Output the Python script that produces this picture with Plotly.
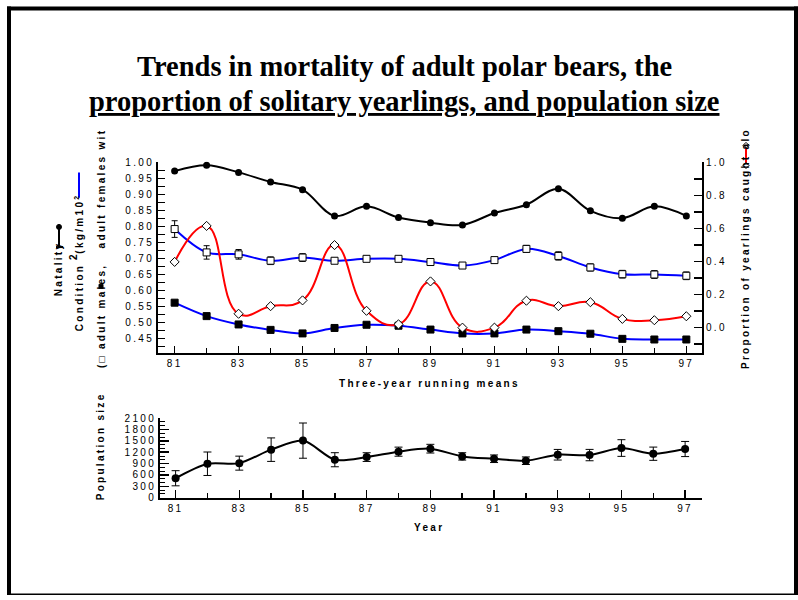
import plotly.graph_objects as go

# ---------------- data ----------------
years = [81, 82, 83, 84, 85, 86, 87, 88, 89, 90, 91, 92, 93, 94, 95, 96, 97]
natality = [0.973, 0.991, 0.969, 0.939, 0.915, 0.833, 0.863, 0.828, 0.812,
            0.805, 0.842, 0.868, 0.918, 0.849, 0.826, 0.863, 0.833]
males_cond = [0.792, 0.719, 0.713, 0.693, 0.703, 0.693, 0.699, 0.699, 0.689,
              0.678, 0.695, 0.730, 0.708, 0.672, 0.651, 0.650, 0.646]
males_err = [0.026, 0.021, 0.015, 0.012, 0.012, 0.008, 0.008, 0.007, 0.007,
             0.007, 0.008, 0.011, 0.013, 0.011, 0.012, 0.012, 0.012]
females_cond = [0.562, 0.520, 0.494, 0.477, 0.466, 0.483, 0.493, 0.490, 0.478,
                0.466, 0.466, 0.478, 0.473, 0.465, 0.449, 0.447, 0.447]
females_err = [0.007, 0.005, 0.005, 0.005, 0.005, 0.004, 0.004, 0.004, 0.004,
               0.004, 0.004, 0.004, 0.004, 0.004, 0.004, 0.004, 0.004]
solitary = [0.398, 0.616, 0.084, 0.130, 0.165, 0.500, 0.102, 0.020, 0.280,
            0.000, 0.000, 0.163, 0.130, 0.154, 0.053, 0.045, 0.069]
pop_size = [513, 896, 912, 1268, 1507, 1002, 1072, 1215, 1294,
            1090, 1028, 976, 1134, 1125, 1311, 1161, 1285]
pop_err = [200, 310, 185, 310, 465, 186, 115, 120, 115,
           97, 100, 100, 140, 150, 220, 175, 200]

x_tick_vals = [81, 83, 85, 87, 89, 91, 93, 95, 97]
x_tick_text = ["81", "83", "85", "87", "89", "91", "93", "95", "97"]
left_tick_vals = [0.45, 0.50, 0.55, 0.60, 0.65, 0.70, 0.75, 0.80, 0.85, 0.90, 0.95, 1.00]
left_tick_text = ["0.45", "0.50", "0.55", "0.60", "0.65", "0.70", "0.75", "0.80",
                  "0.85", "0.90", "0.95", "1.00"]
right_tick_vals = [0.0, 0.2, 0.4, 0.6, 0.8, 1.0]
right_tick_text = ["0.0", "0.2", "0.4", "0.6", "0.8", "1.0"]
pop_tick_vals = [0, 300, 600, 900, 1200, 1500, 1800, 2100]
pop_tick_text = ["0", "300", "600", "900", "1200", "1500", "1800", "2100"]

W, H = 798, 600
SANS = "Liberation Sans, Arial, sans-serif"
SERIF = "Liberation Serif, Times New Roman, serif"


def sp(s, ls=2.3):
    return f"<span style='letter-spacing:{ls}px'>{s}</span>"


def px(x):
    return x / W


def py(y):
    yy = (y - 6.5) / 0.977
    return min(1.0, max(0.0, 1 - yy / H))


fig = go.Figure()

# condition of adult females (filled squares)
fig.add_trace(go.Scatter(
    x=years, y=females_cond, mode="lines+markers",
    line=dict(color="#0000ff", width=2, shape="spline", smoothing=1.0),
    marker=dict(symbol="square", size=7, color="black", line=dict(color="black", width=1)),
    error_y=dict(type="data", array=females_err, color="black", thickness=1, width=3),
    xaxis="x", yaxis="y", showlegend=False))
# condition of adult males (open squares)
fig.add_trace(go.Scatter(
    x=years, y=males_cond, mode="lines+markers",
    line=dict(color="#0000ff", width=2, shape="spline", smoothing=1.0),
    marker=dict(symbol="square", size=7, color="white", line=dict(color="black", width=1)),
    error_y=dict(type="data", array=males_err, color="black", thickness=1, width=3),
    xaxis="x", yaxis="y", showlegend=False))
# natality
fig.add_trace(go.Scatter(
    x=years, y=natality, mode="lines+markers",
    line=dict(color="black", width=2, shape="spline", smoothing=1.0),
    marker=dict(symbol="circle", size=7, color="black"),
    xaxis="x", yaxis="y", showlegend=False))
# proportion of solitary yearlings (right axis)
fig.add_trace(go.Scatter(
    x=years, y=solitary, mode="lines+markers",
    line=dict(color="#ff0000", width=2, shape="spline", smoothing=1.3),
    marker=dict(symbol="diamond", size=7, color="white", line=dict(color="black", width=1)),
    xaxis="x", yaxis="y2", showlegend=False))
# population size
fig.add_trace(go.Scatter(
    x=years, y=pop_size, mode="lines+markers",
    line=dict(color="black", width=2, shape="spline", smoothing=0.8),
    marker=dict(symbol="circle", size=8, color="black"),
    error_y=dict(type="data", array=pop_err, color="black", thickness=1, width=4),
    xaxis="x2", yaxis="y3", showlegend=False))

axis_common = dict(showline=True, linecolor="black", linewidth=2, showgrid=False,
                   zeroline=False, tickcolor="black", tickwidth=1.5,
                   tickfont=dict(family=SANS, size=10, color="black"))

fig.update_layout(
    width=W, height=H, margin=dict(l=0, r=0, t=0, b=0),
    paper_bgcolor="white", plot_bgcolor="white",
    xaxis=dict(domain=[px(158), px(702)], range=[80.48, 97.49], anchor="y",
               tickmode="array", tickvals=x_tick_vals, ticktext=[sp(t) for t in x_tick_text],
               ticks="inside", ticklen=7,
               minor=dict(tickmode="linear", tick0=81, dtick=1, ticks="inside", ticklen=5,
                          tickcolor="black", tickwidth=1.5),
               **axis_common),
    yaxis=dict(domain=[py(352), py(162)], range=[0.4056, 1.003], anchor="x",
               tickmode="array", tickvals=left_tick_vals, ticktext=[sp(t) for t in left_tick_text],
               ticks="inside", ticklen=7,
               minor=dict(tickmode="linear", tick0=0.425, dtick=0.05, ticks="inside", ticklen=7,
                          tickcolor="black", tickwidth=1.5),
               **axis_common),
    yaxis2=dict(overlaying="y", side="right", anchor="x", range=[-0.152, 1.006],
                tickmode="array", tickvals=right_tick_vals, ticktext=[sp(t) for t in right_tick_text],
                ticks="inside", ticklen=8,
                minor=dict(tickmode="linear", tick0=-0.1, dtick=0.2, ticks="inside", ticklen=8,
                           tickcolor="black", tickwidth=1.5),
                **axis_common),
    xaxis2=dict(domain=[px(160), px(702)], range=[80.51, 97.53], anchor="y3",
                tickmode="array", tickvals=x_tick_vals, ticktext=[sp(t) for t in x_tick_text],
                ticks="inside", ticklen=8,
                minor=dict(tickmode="linear", tick0=81, dtick=1, ticks="inside", ticklen=5,
                           tickcolor="black", tickwidth=1.5),
                **axis_common),
    yaxis3=dict(domain=[py(496), py(417)], range=[0, 2100], anchor="x2",
                tickmode="array", tickvals=pop_tick_vals, ticktext=[sp(t) for t in pop_tick_text],
                ticks="inside", ticklen=9,
                minor=dict(tickmode="linear", tick0=0, dtick=100, ticks="inside", ticklen=5,
                           tickcolor="black", tickwidth=1),
                **axis_common),
)

ann = []
ann.append(dict(text="Trends in mortality of adult polar bears, the", x=px(404), y=py(68),
                xref="paper", yref="paper", showarrow=False, xanchor="center", yanchor="middle",
                font=dict(family=SERIF, size=28.5, color="black", weight="bold")))
ann.append(dict(text="proportion of solitary yearlings, and population size", x=px(404), y=py(102),
                xref="paper", yref="paper", showarrow=False, xanchor="center", yanchor="middle",
                font=dict(family=SERIF, size=28.5, color="black", weight="bold", lineposition="under")))

lab_font = dict(family=SANS, size=10, color="black", weight="bold")


def label(text, x, y, angle=0):
    ann.append(dict(text=sp(text), x=px(x), y=py(y), xref="paper", yref="paper",
                    showarrow=False, xanchor="center", yanchor="middle", textangle=angle,
                    font=lab_font))


label("Three-year running means", 429, 383)
label("Year", 429, 526)
label("Population size", 100, 445, -90)
label("Natality", 58, 269, -90)
label("Condition  (kg/m10<sup>2</sup>", 79, 262, -90)
label("2", 73, 256, -90)
label("(□ adult males,   adult females wit", 101, 249, -90)
label("Proportion of yearlings caught alo", 745, 249, -90)

shapes = []
# legend glyphs in the axis titles
shapes.append(dict(type="line", xref="paper", yref="paper", x0=px(59), x1=px(59),
                   y0=py(227), y1=py(247), line=dict(color="black", width=2)))
shapes.append(dict(type="line", xref="paper", yref="paper", x0=px(56), x1=px(63),
                   y0=py(247), y1=py(247), line=dict(color="black", width=2)))
shapes.append(dict(type="circle", xref="paper", yref="paper", x0=px(56.5), x1=px(61.5),
                   y0=py(224.5), y1=py(229.5), fillcolor="black", line=dict(color="black", width=1)))
shapes.append(dict(type="line", xref="paper", yref="paper", x0=px(79), x1=px(79),
                   y0=py(173), y1=py(198), line=dict(color="#0000ff", width=2)))
shapes.append(dict(type="rect", xref="paper", yref="paper", x0=px(99), x1=px(103),
                   y0=py(284), y1=py(288), fillcolor="black", line=dict(color="black", width=1)))
shapes.append(dict(type="line", xref="paper", yref="paper", x0=px(746), x1=px(746),
                   y0=py(146), y1=py(166), line=dict(color="#ff0000", width=2)))
for yy in (146, 166):
    shapes.append(dict(type="path", xref="paper", yref="paper",
                       path=f"M {px(743)} {py(yy)} L {px(746)} {py(yy-3)} L {px(749)} {py(yy)} L {px(746)} {py(yy+3)} Z",
                       fillcolor="white", line=dict(color="black", width=1)))
# slide frame
shapes.append(dict(type="rect", xref="paper", yref="paper", x0=px(7), x1=px(11),
                   y0=0, y1=py(8), fillcolor="black", line=dict(width=0)))
shapes.append(dict(type="rect", xref="paper", yref="paper", x0=px(7), x1=px(798),
                   y0=py(12), y1=py(8), fillcolor="black", line=dict(width=0)))
shapes.append(dict(type="rect", xref="paper", yref="paper", x0=px(794), x1=px(798),
                   y0=0, y1=py(8), fillcolor="black", line=dict(width=0)))
shapes.append(dict(type="rect", xref="paper", yref="paper", x0=px(7), x1=px(798),
                   y0=0, y1=1.5 / H, fillcolor="black", line=dict(width=0)))

fig.update_layout(annotations=ann, shapes=shapes)
fig.write_html("out.html", config=dict(displayModeBar=False, staticPlot=True),
               post_script="document.body.style.margin='0';document.body.style.overflow='hidden';")
